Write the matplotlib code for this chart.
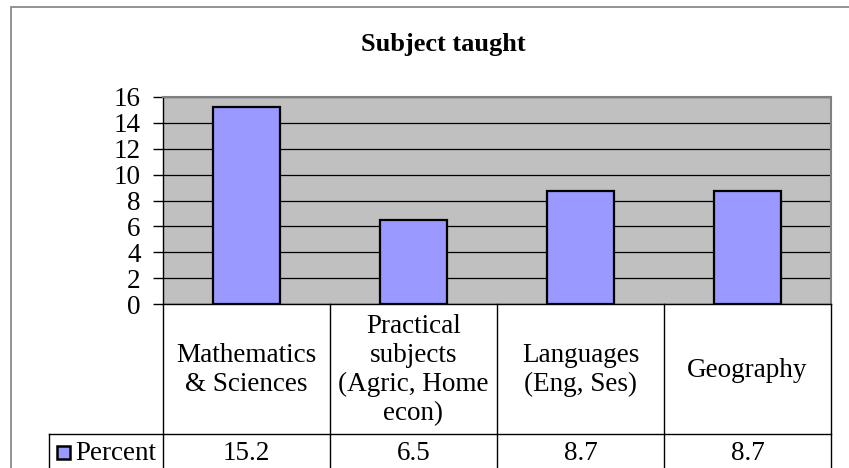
import matplotlib.pyplot as plt
from matplotlib.patches import Rectangle
import matplotlib.transforms as mtransforms

categories = ['Mathematics\n& Sciences', 'Practical\nsubjects\n(Agric, Home\necon)',
              'Languages\n(Eng, Ses)', 'Geography']
percent = [15.2, 6.5, 8.7, 8.7]
value_labels = ['15.2', '6.5', '8.7', '8.7']
series_name = 'Percent'
title = 'Subject taught'

W, H = 849, 468
FS = 19.5
plt.rcParams['font.family'] = ['Liberation Serif', 'DejaVu Serif']

fig = plt.figure(figsize=(W / 100, H / 100), dpi=100)


def px(x, y):
    """pixel coords (top-left origin) -> figure fraction"""
    return x / W, 1 - y / H


# chart frame
fig.add_artist(Rectangle(px(11, 475), (860 - 11) / W, (475 - 7) / H,
                         transform=fig.transFigure, fill=False,
                         edgecolor='#808080', lw=1.2))

left, top = px(163, 97)
right, bottom = px(831, 304)
ax = fig.add_axes([left, bottom, right - left, top - bottom])
ax.set_facecolor('#C0C0C0')

x = list(range(len(categories)))
ax.bar(x, percent, width=0.4, color='#9999FF', edgecolor='black', lw=1.6, zorder=3)

ax.set_xlim(-0.5, len(categories) - 0.5)
ax.set_ylim(0, 16)
ax.set_yticks(range(0, 17, 2))
ax.yaxis.grid(True, color='black', lw=0.9, zorder=1)
ax.set_axisbelow(True)
ax.tick_params(axis='y', labelsize=FS, length=7, width=1, direction='out', pad=9)
ax.tick_params(axis='x', bottom=False, labelbottom=False)
for s in ['top', 'right']:
    ax.spines[s].set_color('#808080')
    ax.spines[s].set_linewidth(1.5)
ax.spines['left'].set_linewidth(1)
ax.spines['bottom'].set_linewidth(1)

# data table below the axes
trans = mtransforms.blended_transform_factory(ax.transData, ax.transAxes)
ah = 304 - 97
row1 = -(434 - 304) / ah
row2 = -(480 - 304) / ah
for i in range(len(categories) + 1):
    ax.plot([i - 0.5, i - 0.5], [0, row2], transform=trans, color='black',
            lw=1, clip_on=False)
ax.plot([-0.5, len(categories) - 0.5], [row1, row1], transform=trans,
        color='black', lw=1, clip_on=False)
for i, (cat, val) in enumerate(zip(categories, value_labels)):
    ax.text(i, row1 / 2 - 0.005, cat, transform=trans, ha='center', va='center',
            fontsize=FS, linespacing=1.2)
    ax.text(i, -(453 - 304) / ah, val, transform=trans, ha='center',
            va='center', fontsize=FS)

# legend key cell
fig.add_artist(plt.Line2D([49 / W, 163 / W], [1 - 434 / H] * 2,
                          transform=fig.transFigure, color='black', lw=1))
fig.add_artist(plt.Line2D([49 / W, 49 / W], [1 - 434 / H, 0],
                          transform=fig.transFigure, color='black', lw=1))
fig.add_artist(Rectangle(px(57, 459), 13 / W, 13 / H, transform=fig.transFigure,
                         facecolor='#9999FF', edgecolor='black', lw=1.8))
fig.text(75 / W, 1 - 453 / H, series_name, ha='left', va='center', fontsize=FS)

fig.text(443 / W, 1 - 45 / H, title, ha='center', va='center',
         fontsize=19, fontweight='bold')

fig.savefig('out.png', dpi=100)
